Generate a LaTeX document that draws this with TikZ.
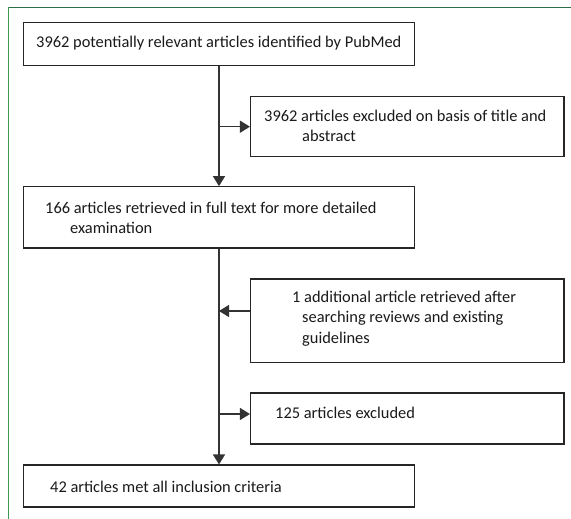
\documentclass[tikz,border=0pt]{standalone}
\usepackage{fontspec}
\setmainfont{Carlito}
\usetikzlibrary{arrows.meta,positioning}
\definecolor{frmtop}{HTML}{2B6E47}
\definecolor{frmleft}{HTML}{3A9A50}
\definecolor{boxline}{HTML}{262626}
\definecolor{flowline}{HTML}{333333}
\definecolor{txt}{HTML}{1A1A1A}

\begin{document}
\begin{tikzpicture}[x=1pt,y=-1pt,
    stagebox/.style={draw=boxline,line width=1.1pt,fill=white,inner sep=0pt},
    stagetext/.style={font=\fontsize{16.4}{20.5}\selectfont,text=txt,
                      inner sep=0pt,align=left,anchor=base west},
    flow/.style={draw=flowline,line width=1.3pt},
    flowarrow/.style={flow,-{Triangle[length=10pt,width=12pt]}}]

  % ---- Page and frame ------------------------------------------
  \useasboundingbox (0,0) rectangle (571,519);
  \draw[frmtop,line width=1.5pt] (7.5,7.3) -- (571,7.3);
  \draw[frmleft,line width=1pt]  (8,7.3) -- (8,519);

  % ============================================================
  %  Boxes (left column and right column)
  % ============================================================
  \node[stagebox,minimum width=391pt,minimum height=43pt] (found)
    at (219,44) {};
  \node[stagebox,minimum width=313.5pt,minimum height=60pt] (titleout)
    at (407.25,126.7) {};
  \node[stagebox,minimum width=391pt,minimum height=61.3pt] (fulltext)
    at (219,217.35) {};
  \node[stagebox,minimum width=313.5pt,minimum height=83.7pt] (extra)
    at (407.25,320.85) {};
  \node[stagebox,minimum width=313.5pt,minimum height=51pt] (fullout)
    at (407.25,418.5) {};
  \node[stagebox,minimum width=391pt,minimum height=42pt] (included)
    at (219,486) {};

  % ---- Texts (anchored at the baseline of the last line) -------
  \node[stagetext] (t1) at (36,48)
    {3962 potentially relevant articles identified by PubMed};
  \node[stagetext] (t2) at (264,142)
    {3962 articles excluded on basis of title and\\
     \hspace*{38pt}abstract};
  \node[stagetext] (t3) at (45,233.5)
    {166 articles retrieved in full text for more detailed\\
     \hspace*{25pt}examination};
  \node[stagetext] (t4) at (292,343)
    {1 additional article retrieved after\\
     \hspace*{10pt}searching reviews and existing\\
     \hspace*{10pt}guidelines};
  \node[stagetext] (t5) at (275,418.5)
    {125 articles excluded};
  \node[stagetext] (t6) at (50,492)
    {42 articles met all inclusion criteria};

  % ============================================================
  %  Flow lines
  % ============================================================
  \coordinate (j1) at (219,126.7);
  \coordinate (j2) at (219,311);
  \coordinate (j3) at (219,414);

  \draw[flowarrow] (found.south) -- (fulltext.north);
  \draw[flowarrow] (j1) -- (titleout.west |- j1);
  \draw[flowarrow] (fulltext.south) -- (included.north);
  \draw[flowarrow] (extra.west |- j2) -- (j2);
  \draw[flowarrow] (j3) -- (fullout.west |- j3);

\end{tikzpicture}
\end{document}
